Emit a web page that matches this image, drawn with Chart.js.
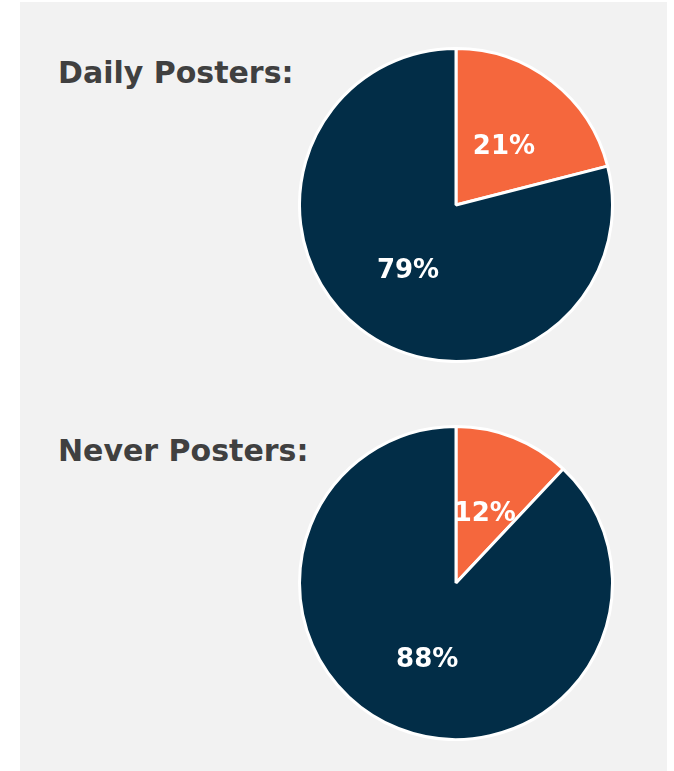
<!DOCTYPE html>
<html>
<head>
<meta charset="utf-8">
<script src="https://cdn.jsdelivr.net/npm/chart.js@4/dist/chart.umd.min.js"></script>
<style>
  html, body { margin: 0; padding: 0; background: #ffffff; width: 674px; height: 771px; overflow: hidden; }
  #panel { position: absolute; left: 20px; top: 2px; width: 647px; height: 769px; background: #f2f2f2; }
  .title { position: absolute; left: 58px; font-family: "DejaVu Sans", sans-serif; font-weight: 700; font-size: 30px;
           color: #404040; white-space: nowrap; line-height: 1; }
  canvas { position: absolute; }
</style>
</head>
<body>
<div id="panel"></div>
<div class="title" id="t1" style="top:58px;"></div>
<div class="title" id="t2" style="top:436px;"></div>
<canvas id="c1" width="316" height="316" style="left:298px; top:47px;"></canvas>
<canvas id="c2" width="316" height="316" style="left:298px; top:425px;"></canvas>
<script>
const chartTitles = ['Daily Posters:', 'Never Posters:'];
const sliceLabels = ['Share', 'Rest'];
const dailyValues = [21, 79];
const neverValues = [12, 88];
const sliceColors = ['#F5673D', '#022D47'];

document.getElementById('t1').textContent = chartTitles[0];
document.getElementById('t2').textContent = chartTitles[1];

const pctLabels = {
  id: 'pctLabels',
  afterDatasetsDraw(chart) {
    const ctx = chart.ctx;
    const ds = chart.data.datasets[0];
    const meta = chart.getDatasetMeta(0);
    ctx.save();
    ctx.fillStyle = '#ffffff';
    ctx.font = '700 26px "DejaVu Sans", sans-serif';
    ctx.textAlign = 'center';
    ctx.textBaseline = 'middle';
    meta.data.forEach((arc, i) => {
      const p = arc.tooltipPosition();
      ctx.fillText(ds.data[i] + '%', p.x, p.y + 4);
    });
    ctx.restore();
  }
};

function makePie(id, values) {
  return new Chart(document.getElementById(id), {
    type: 'pie',
    data: {
      labels: sliceLabels,
      datasets: [{
        data: values,
        backgroundColor: sliceColors,
        borderColor: '#ffffff',
        borderWidth: 3
      }]
    },
    options: {
      responsive: false,
      animation: false,
      devicePixelRatio: 1,
      layout: { padding: 0 },
      plugins: { legend: { display: false }, tooltip: { enabled: false }, title: { display: false } }
    },
    plugins: [pctLabels]
  });
}
makePie('c1', dailyValues);
makePie('c2', neverValues);
</script>
</body>
</html>
